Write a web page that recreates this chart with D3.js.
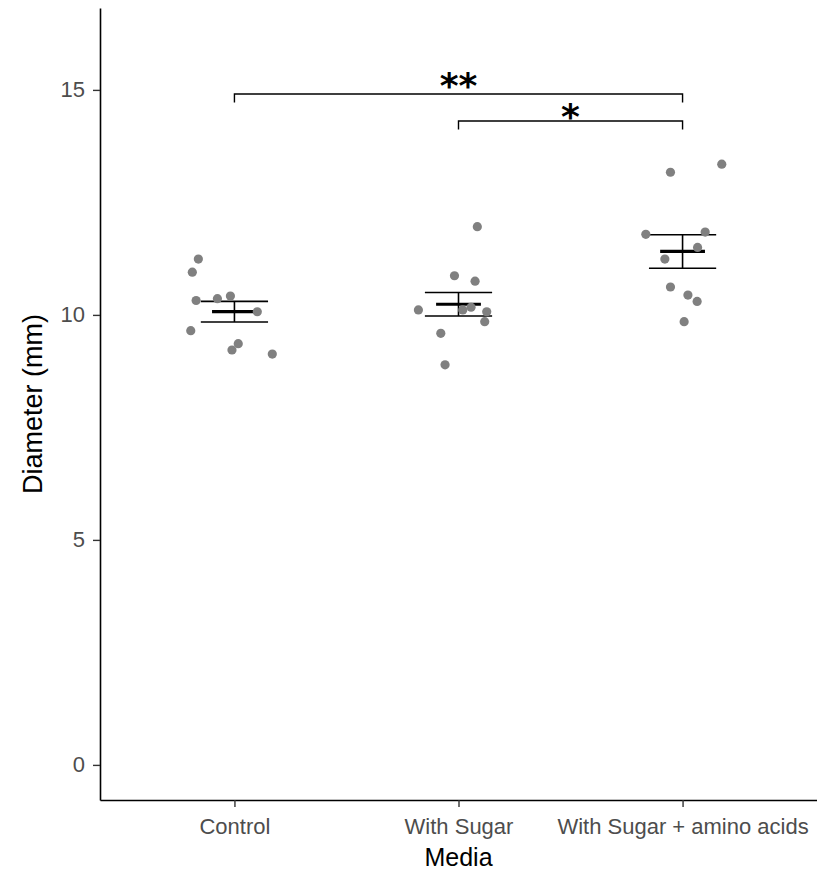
<!DOCTYPE html>
<html>
<head>
<meta charset="utf-8">
<script src="https://cdn.jsdelivr.net/npm/d3@7"></script>
<style>
    body { margin: 0; background: #fff; }
    text { font-family: "Liberation Sans", Arial, sans-serif; }
</style>
</head>
<body>
<div id="chart-area"></div>
<script>
// data
let media = ["Control", "With Sugar", "With Sugar + amino acids"];

let control = [11.24, 10.95, 10.32, 10.36, 10.42, 10.07, 9.65, 9.36, 9.22, 9.13];
let withSugar = [11.96, 10.87, 10.75, 10.11, 10.11, 10.17, 10.07, 9.85, 9.59, 8.89];
let withAmino = [13.35, 13.17, 11.79, 11.84, 11.50, 11.24, 10.62, 10.44, 10.30, 9.85];

// horizontal jitter of each point, in category units
let jitterControl = [-0.161, -0.188, -0.171, -0.076, -0.018, 0.102, -0.195, 0.017, -0.011, 0.169];
let jitterSugar = [0.084, -0.018, 0.074, -0.179, 0.019, 0.056, 0.126, 0.117, -0.079, -0.060];
let jitterAmino = [0.175, -0.054, -0.164, 0.101, 0.067, -0.079, -0.054, 0.024, 0.065, 0.007];

let yTicks = [0, 5, 10, 15];

// significance brackets
let compareFrom = ["Control", "With Sugar"];
let compareTo = ["With Sugar + amino acids", "With Sugar + amino acids"];
let bracketY = [14.91, 14.31];
let stars = ["**", "*"];

let groups = [control, withSugar, withAmino];
let jitters = [jitterControl, jitterSugar, jitterAmino];

let svg = d3.select("#chart-area")
    .append("svg")
    .attr("width", 817)
    .attr("height", 872);

let x = d3.scalePoint()
    .domain(media)
    .range([100, 817])
    .padding(0.6);

let step = x.step();

let y = d3.scaleLinear()
    .domain([-0.78, 16.82])
    .range([800, 8]);

// summary: mean +/- standard error
let summary = groups.map(function (vals, i) {
    let m = d3.mean(vals);
    let se = d3.deviation(vals) / Math.sqrt(vals.length);
    return { name: media[i], mean: m, lo: m - se, hi: m + se };
});

let points = [];
groups.forEach(function (vals, i) {
    vals.forEach(function (v, j) {
        points.push({ name: media[i], value: v, jit: jitters[i][j] });
    });
});

// axes
let yAxis = d3.axisLeft(y)
    .tickValues(yTicks)
    .tickSize(7)
    .tickSizeOuter(0)
    .tickPadding(8);

let gy = svg.append("g")
    .attr("transform", "translate(100,0)")
    .call(yAxis);

let xAxis = d3.axisBottom(x)
    .tickSize(7)
    .tickSizeOuter(0)
    .tickPadding(11);

let gx = svg.append("g")
    .attr("transform", "translate(0,800)")
    .call(xAxis);

[gx, gy].forEach(function (g) {
    g.select(".domain").attr("stroke", "#000").attr("stroke-width", 1.6);
    g.selectAll(".tick line").attr("stroke", "#333").attr("stroke-width", 1.4);
    g.selectAll(".tick text")
        .attr("fill", "#4d4d4d")
        .style("font-size", "22px")
        .style("font-family", "'Liberation Sans', Arial, sans-serif");
});

svg.append("text")
    .attr("transform", "translate(42,404) rotate(-90)")
    .attr("text-anchor", "middle")
    .style("font-size", "27px")
    .attr("fill", "#000")
    .text("Diameter (mm)");

svg.append("text")
    .attr("x", 458.5)
    .attr("y", 866)
    .attr("text-anchor", "middle")
    .style("font-size", "25px")
    .attr("fill", "#000")
    .text("Media");

// error bars
let eb = svg.selectAll("g.eb").data(summary).enter().append("g").attr("class", "eb");

eb.append("line")
    .attr("x1", (d) => x(d.name))
    .attr("x2", (d) => x(d.name))
    .attr("y1", (d) => y(d.lo))
    .attr("y2", (d) => y(d.hi))
    .attr("stroke", "#000")
    .attr("stroke-width", 1.6);

eb.append("line")
    .attr("x1", (d) => x(d.name) - 0.15 * step)
    .attr("x2", (d) => x(d.name) + 0.15 * step)
    .attr("y1", (d) => y(d.hi))
    .attr("y2", (d) => y(d.hi))
    .attr("stroke", "#000")
    .attr("stroke-width", 1.6);

eb.append("line")
    .attr("x1", (d) => x(d.name) - 0.15 * step)
    .attr("x2", (d) => x(d.name) + 0.15 * step)
    .attr("y1", (d) => y(d.lo))
    .attr("y2", (d) => y(d.lo))
    .attr("stroke", "#000")
    .attr("stroke-width", 1.6);

eb.append("line")
    .attr("x1", (d) => x(d.name) - 0.1 * step)
    .attr("x2", (d) => x(d.name) + 0.1 * step)
    .attr("y1", (d) => y(d.mean))
    .attr("y2", (d) => y(d.mean))
    .attr("stroke", "#000")
    .attr("stroke-width", 3.2);

// jittered points on top
svg.selectAll("circle").data(points).enter().append("circle")
    .attr("cx", (d) => x(d.name) + d.jit * step)
    .attr("cy", (d) => y(d.value))
    .attr("r", 4.6)
    .attr("fill", "#808080");

// significance brackets
let tipDepth = 0.19;
stars.forEach(function (s, i) {
    let x1 = x(compareFrom[i]);
    let x2 = x(compareTo[i]);
    let yb = y(bracketY[i]);
    let yt = y(bracketY[i] - tipDepth);
    svg.append("path")
        .attr("d", "M" + x1 + "," + yt + "V" + yb + "H" + x2 + "V" + yt)
        .attr("fill", "none")
        .attr("stroke", "#000")
        .attr("stroke-width", 1.4);
    svg.append("text")
        .attr("x", (x1 + x2) / 2)
        .attr("y", yb + (i === 0 ? 4 : 8))
        .attr("text-anchor", "middle")
        .style("font-family", "'DejaVu Sans', sans-serif")
        .style("font-weight", "bold")
        .style("font-size", "36px")
        .attr("fill", "#000")
        .text(s);
});
</script>
</body>
</html>
